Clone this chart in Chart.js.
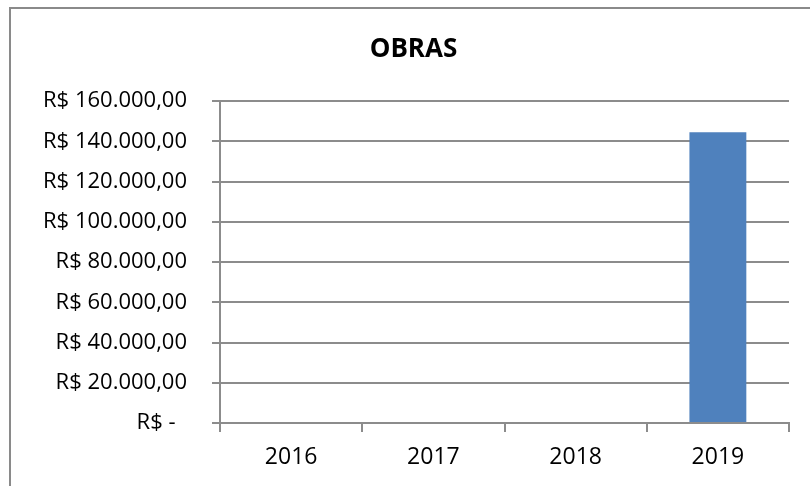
<!DOCTYPE html>
<html>
<head>
<meta charset="utf-8">
<title>OBRAS</title>
<script src="https://cdn.jsdelivr.net/npm/chart.js@4"></script>
<style>
  html, body { margin: 0; padding: 0; background: #fff; }
  #chartContainer { width: 810px; height: 486px; }
</style>
</head>
<body>
<div id="chartContainer"><canvas id="bar-chart"></canvas></div>
<script>
// values per year (R$)
var years = ['2016', '2017', '2018', '2019'];
var obrasValues = [0, 0, 0, 144500];
var yTicks = [0, 20000, 40000, 60000, 80000, 100000, 120000, 140000, 160000];

var axisGray = '#8c8c8c';
var fontFamily = "'Open Sans', 'Liberation Sans', sans-serif";

// R$ 1.234,56 style, dash for zero like the accounting format
function formatReal(v) {
    if (v === 0) return 'R$ -  ';
    var parts = v.toFixed(2).split('.');
    var intPart = parts[0].replace(/\B(?=(\d{3})+(?!\d))/g, '.');
    return 'R$ ' + intPart + ',' + parts[1];
}

// outer frame of the chart object
var framePlugin = {
    id: 'frame',
    beforeDraw: function(chart) {
        var c = chart.ctx;
        c.save();
        c.strokeStyle = '#8a8a8a';
        c.lineWidth = 2;
        c.strokeRect(10, 8, 900, 600);
        c.restore();
    }
};

var ctx = document.getElementById('bar-chart').getContext('2d');
var chart = new Chart(ctx, {
    type: 'bar',
    data: {
        labels: years,
        datasets: [{
            label: 'OBRAS',
            data: obrasValues,
            backgroundColor: '#4f81bd',
            borderWidth: 0,
            categoryPercentage: 1,
            barPercentage: 0.4
        }]
    },
    options: {
        responsive: true,
        maintainAspectRatio: false,
        animation: false,
        layout: {
            padding: { left: 38, right: 21, top: 0, bottom: 0 }
        },
        plugins: {
            legend: { display: false },
            tooltip: { enabled: false },
            title: {
                display: true,
                text: 'OBRAS',
                color: '#000',
                font: { family: fontFamily, size: 26, weight: 'bold', lineHeight: 1.2 },
                padding: { top: 34, bottom: 36 }
            }
        },
        scales: {
            x: {
                offset: true,
                afterFit: function(scale) { scale.height = 63; },
                grid: {
                    offset: true,
                    drawOnChartArea: false,
                    drawTicks: true,
                    tickLength: 9,
                    color: axisGray,
                    lineWidth: 2
                },
                border: { display: true, color: axisGray, width: 2 },
                ticks: {
                    color: '#000',
                    padding: 12,
                    maxRotation: 0,
                    font: { family: fontFamily, size: 23 }
                }
            },
            y: {
                min: 0,
                max: 160000,
                afterFit: function(scale) { scale.width = 182; },
                afterBuildTicks: function(scale) {
                    scale.ticks = yTicks.map(function(v) { return { value: v }; });
                },
                grid: {
                    drawTicks: true,
                    tickLength: 8,
                    color: axisGray,
                    lineWidth: 2
                },
                border: { display: true, color: axisGray, width: 2 },
                ticks: {
                    color: '#000',
                    padding: 25,
                    font: { family: fontFamily, size: 22 },
                    callback: function(value) { return formatReal(value); }
                }
            }
        }
    },
    plugins: [framePlugin]
});
</script>
</body>
</html>
